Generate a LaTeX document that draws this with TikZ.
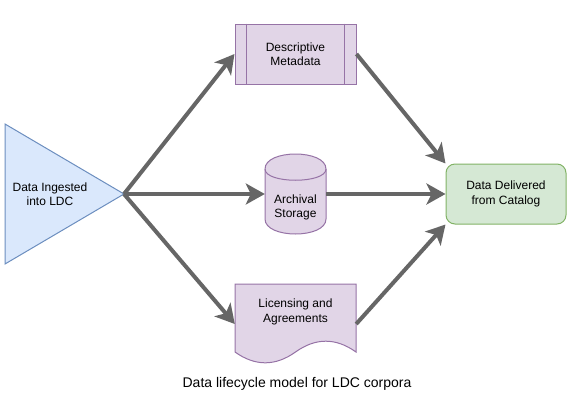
\documentclass[tikz,border=0pt]{standalone}
\usepackage{fontspec}
\setmainfont{Liberation Sans}
\usetikzlibrary{arrows.meta}
\definecolor{bluefill}{HTML}{DAE8FC}
\definecolor{bluedraw}{HTML}{6C8EBF}
\definecolor{purpfill}{HTML}{E1D5E7}
\definecolor{purpdraw}{HTML}{9673A6}
\definecolor{greenfill}{HTML}{D5E8D4}
\definecolor{greendraw}{HTML}{82B366}
\definecolor{arrowgray}{HTML}{666666}
\tikzset{
  lbl/.style={align=center, font=\fontsize{12}{14.4}\selectfont, inner sep=0pt},
  ghost/.style={draw=none, fill=none, inner sep=0pt},
  conn/.style={draw=arrowgray, line width=4pt,
    -{Stealth[length=19pt, width=21pt, inset=5pt]}},
  purpshape/.style={fill=purpfill, draw=purpdraw, line width=1pt},
}
\begin{document}
\begin{tikzpicture}[x=1pt,y=-1pt]
\useasboundingbox (0,0) rectangle (571,400);
% triangle
\draw[fill=bluefill, draw=bluedraw, line width=1pt] (5,124) -- (124,194) -- (5,264) -- cycle;
\coordinate (apex) at (124,194);
\node[lbl] (ing) at (50,194) {Data Ingested\\into LDC};
% descriptive metadata
\node[purpshape, minimum width=121pt, minimum height=60pt, inner sep=0pt] (dm) at (295.5,54) {};
\draw[purpdraw, line width=1pt] ([xshift=12pt]dm.north west) -- ([xshift=12pt]dm.south west);
\draw[purpdraw, line width=1pt] ([xshift=-12pt]dm.north east) -- ([xshift=-12pt]dm.south east);
\node[lbl] (dmt) at (295.5,54) {Descriptive\\Metadata};
% cylinder
\node[ghost, minimum width=61pt, minimum height=80pt] (arch) at (295.5,194) {};
\draw[purpshape] (265,169) .. controls (265,149) and (326,149) .. (326,169)
  -- (326,219) .. controls (326,239) and (265,239) .. (265,219) -- cycle;
\draw[purpdraw, line width=1pt] (265,169) .. controls (265,184) and (326,184) .. (326,169);
\node[lbl] (archt) at (295.5,207.5) {Archival\\Storage};
% document
\node[ghost, minimum width=121pt, minimum height=80pt] (lic) at (295.5,324) {};
\draw[purpshape] (235,284) -- (356,284) -- (356,352)
  .. controls (335.83,337.6) and (315.67,337.6) .. (295.5,352)
  .. controls (275.33,366.4) and (255.17,366.4) .. (235,352) -- cycle;
\node[lbl] (lict) at (295.5,312) {Licensing and\\Agreements};
% delivered
\node[fill=greenfill, draw=greendraw, line width=1pt, rounded corners=9pt,
  minimum width=120pt, minimum height=60pt, inner sep=0pt] (dd) at (506,194) {};
\node[lbl] (ddt) at (506,194) {Data Delivered\\from Catalog};
% connectors
\draw[conn] (apex) -- (dm.west);
\draw[conn] (apex) -- (arch.west);
\draw[conn] (apex) -- (lic.west);
\draw[conn] (dm.east) -- (dd.north west);
\draw[conn] (arch.east) -- (dd.west);
\draw[conn] (lic.east) -- (dd.south west);
% caption
\node[lbl, font=\fontsize{14}{16}\selectfont] (cap) at (297,384) {Data lifecycle model for LDC corpora};
\end{tikzpicture}
\end{document}
